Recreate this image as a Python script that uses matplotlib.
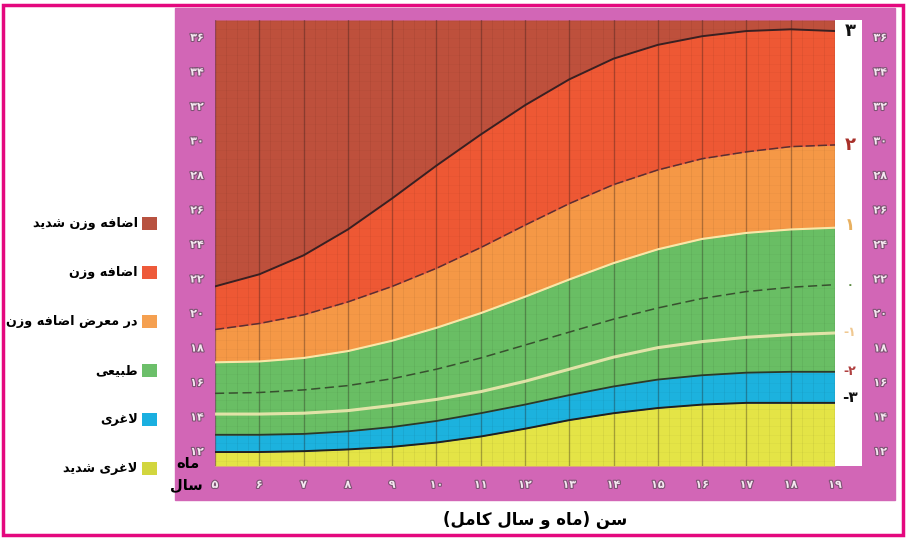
import matplotlib
matplotlib.use("Agg")
import matplotlib.pyplot as plt
import matplotlib.patheffects as pe
from matplotlib.patches import Rectangle, Patch

plt.rcParams["font.family"] = ["DejaVu Sans"]

# age in full years (x axis) and BMI curves, one per z-score line
ages = [5, 6, 7, 8, 9, 10, 11, 12, 13, 14, 15, 16, 17, 18, 19]
plus3 = [21.6, 22.3, 23.4, 24.9, 26.7, 28.6, 30.4, 32.1, 33.6, 34.8, 35.6, 36.1, 36.4, 36.5, 36.4]
plus2 = [19.1, 19.45, 19.95, 20.7, 21.6, 22.65, 23.85, 25.15, 26.4, 27.5, 28.35, 29.0, 29.4, 29.7, 29.8]
plus1 = [17.2, 17.25, 17.45, 17.85, 18.45, 19.2, 20.05, 21.0, 22.0, 22.95, 23.75, 24.35, 24.7, 24.9, 25.0]
median = [15.4, 15.45, 15.6, 15.85, 16.25, 16.8, 17.45, 18.2, 18.95, 19.7, 20.35, 20.9, 21.3, 21.55, 21.7]
minus1 = [14.2, 14.2, 14.25, 14.4, 14.7, 15.05, 15.5, 16.1, 16.8, 17.5, 18.05, 18.4, 18.65, 18.8, 18.9]
minus2 = [13.0, 13.0, 13.05, 13.2, 13.45, 13.8, 14.25, 14.75, 15.3, 15.8, 16.2, 16.45, 16.6, 16.65, 16.65]
minus3 = [12.0, 12.0, 12.05, 12.15, 12.3, 12.55, 12.9, 13.35, 13.85, 14.25, 14.55, 14.75, 14.85, 14.85, 14.85]

bmi_ticks = [36, 34, 32, 30, 28, 26, 24, 22, 20, 18, 16, 14, 12]

legend_labels = ["اضافه وزن شدید", "اضافه وزن", "در معرض اضافه وزن", "طبیعی", "لاغری", "لاغری شدید"]
legend_colors = ["#B85240", "#EE5A3A", "#F5A050", "#6CBF6A", "#1AAFE0", "#D2D63E"]
x_title = "سن (ماه و سال کامل)"

BROWN, RED, ORANGE = "#BE503C", "#EE5834", "#F59846"
GREEN, BLUE, YELLOW = "#69BE64", "#1CB2DE", "#E4E446"
PINK = "#D266B6"

# --- tiny Arabic-script shaper: matplotlib has no shaping / bidi of its own ---
FORMS = {
    "ا": ("\uFE8D", "\uFE8E"), "د": ("\uFEA9", "\uFEAA"), "ر": ("\uFEAD", "\uFEAE"),
    "ز": ("\uFEAF", "\uFEB0"), "و": ("\uFEED", "\uFEEE"),
    "ب": ("\uFE8F", "\uFE90", "\uFE91", "\uFE92"), "س": ("\uFEB1", "\uFEB2", "\uFEB3", "\uFEB4"),
    "ش": ("\uFEB5", "\uFEB6", "\uFEB7", "\uFEB8"), "ض": ("\uFEBD", "\uFEBE", "\uFEBF", "\uFEC0"),
    "ط": ("\uFEC1", "\uFEC2", "\uFEC3", "\uFEC4"), "ع": ("\uFEC9", "\uFECA", "\uFECB", "\uFECC"),
    "غ": ("\uFECD", "\uFECE", "\uFECF", "\uFED0"), "ف": ("\uFED1", "\uFED2", "\uFED3", "\uFED4"),
    "ل": ("\uFEDD", "\uFEDE", "\uFEDF", "\uFEE0"), "م": ("\uFEE1", "\uFEE2", "\uFEE3", "\uFEE4"),
    "ن": ("\uFEE5", "\uFEE6", "\uFEE7", "\uFEE8"), "ه": ("\uFEE9", "\uFEEA", "\uFEEB", "\uFEEC"),
    "ی": ("\uFEEF", "\uFEF0", "\uFEF3", "\uFEF4"), "ک": ("\uFB8E", "\uFB8F", "\uFEDB", "\uFEDC"),
}
MIRROR = str.maketrans("()", ")(")


def shape(text):
    out = []
    i = 0
    while i < len(text):
        c = text[i]
        prev = text[i - 1] if i > 0 else ""
        left = len(FORMS.get(prev, ())) == 4
        if c == "ل" and i + 1 < len(text) and text[i + 1] == "ا":
            out.append("\uFEFC" if left else "\uFEFB")
            i += 2
            continue
        if c not in FORMS:
            out.append(c)
            i += 1
            continue
        f = FORMS[c]
        nxt = text[i + 1] if i + 1 < len(text) else ""
        right = len(f) == 4 and nxt in FORMS
        if left and right:
            out.append(f[3])
        elif left:
            out.append(f[1])
        elif right:
            out.append(f[2])
        else:
            out.append(f[0])
        i += 1
    return "".join(reversed(out)).translate(MIRROR)


def fa(num):
    return str(num).translate(str.maketrans("0123456789", "۰۱۲۳۴۵۶۷۸۹"))


W, H = 907, 539
fig = plt.figure(figsize=(W / 100, H / 100), dpi=100)
fig.patches.append(Rectangle((175 / W, 1 - 500 / H), 720 / W, 492 / H,
                             transform=fig.transFigure, color=PINK, zorder=-5))
fig.patches.append(Rectangle((3 / W, 1 - 535 / H), 900 / W, 530 / H, transform=fig.transFigure,
                             fill=False, ec="#E4087E", lw=2.5, zorder=-4))

ax = fig.add_axes([215 / W, 1 - 466 / H, 620 / W, 446 / H])
ax.set_zorder(2)
ymin, ymax = 11.19, 37.04
ax.set_xlim(5, 19)
ax.set_ylim(ymin, ymax)
ax.set_facecolor("none")
for s in ax.spines.values():
    s.set_visible(False)

ax.fill_between(ages, ymin, minus3, color=YELLOW, lw=0)
ax.fill_between(ages, minus3, minus2, color=BLUE, lw=0)
ax.fill_between(ages, minus2, plus1, color=GREEN, lw=0)
ax.fill_between(ages, plus1, plus2, color=ORANGE, lw=0)
ax.fill_between(ages, plus2, plus3, color=RED, lw=0)
ax.fill_between(ages, plus3, ymax, color=BROWN, lw=0)

# fine paper grid + darker yearly lines
for k in range(5 * 4, 19 * 4):
    ax.axvline(k / 4, color="black", alpha=0.06, lw=0.6)
for a in ages:
    ax.axvline(a, color="#2a1a1a", alpha=0.3, lw=1.0)
y = 11.5
while y < ymax:
    ax.axhline(y, color="black", alpha=0.035, lw=0.5)
    y += 0.5

ax.plot(ages, plus3, color="#3a2020", lw=1.4)
ax.plot(ages, plus2, color="#5a3030", lw=1.1, ls=(0, (6, 2)))
ax.plot(ages, plus1, color="#F8E8A8", lw=1.5)
ax.plot(ages, median, color="#38502f", lw=1.1, ls=(0, (6, 3)))
ax.plot(ages, minus1, color="#EFE8B0", lw=2.2, alpha=0.9)
ax.plot(ages, minus2, color="#2a3a2a", lw=1.3)
ax.plot(ages, minus3, color="#202020", lw=1.4)

# white z-score strip on the right
ax.add_patch(Rectangle((1.0, 0), 0.0435, 1, transform=ax.transAxes,
                       facecolor="white", lw=0, clip_on=False))
ytr = ax.get_yaxis_transform()
zlabels = [(plus3[-1], "۳", "#111111", 13), (plus2[-1], "۲", "#A8302A", 13),
           (plus1[-1] + 0.15, "۱", "#E8B060", 12), (median[-1], "۰", "#5A8A40", 8),
           (minus1[-1], "-۱", "#F0C890", 9), (minus2[-1], "-۲", "#B04040", 9),
           (minus3[-1] + 0.3, "-۳", "#111111", 11)]
for yv, txt, col, fs in zlabels:
    ax.text(1.024, yv, txt, transform=ytr, ha="center", va="center",
            color=col, fontsize=fs, fontweight="bold", clip_on=False)

# embossed tick labels on both sides
emb = [pe.withStroke(linewidth=1.6, foreground="#7E5474")]
for t in bmi_ticks:
    ax.text(-0.029, t, fa(t), transform=ytr, ha="center", va="center", fontsize=8,
            color="#F4E8F0", fontweight="bold", path_effects=emb)
    ax.text(1.073, t, fa(t), transform=ytr, ha="center", va="center", fontsize=8,
            color="#F4E8F0", fontweight="bold", path_effects=emb)

ax.set_xticks(ages, labels=[fa(a) for a in ages])
ax.set_yticks([])
ax.tick_params(axis="x", length=0, pad=10, labelsize=8, labelcolor="#F4E8F0")
for lab in ax.get_xticklabels():
    lab.set_fontweight("bold")
    lab.set_path_effects(emb)

fig.text(188 / W, 1 - 464 / H, shape("ماه"), ha="center", va="center",
         fontsize=10.5, fontweight="bold", zorder=5)
fig.text(186 / W, 1 - 485 / H, shape("سال"), ha="center", va="center",
         fontsize=10.5, fontweight="bold", zorder=5)
fig.text(535 / W, 1 - 520 / H, shape(x_title), ha="center", va="center",
         fontsize=12, fontweight="bold")

handles = [Patch(facecolor=c, edgecolor="none") for c in legend_colors]
fig.legend(handles, [shape(l) for l in legend_labels], loc="center right",
           bbox_to_anchor=(162 / W, 1 - 346 / H), frameon=False, markerfirst=False,
           prop={"weight": "bold", "size": 9.2}, handlelength=1.2,
           handleheight=1.2, handletextpad=0.3, labelspacing=2.75, borderaxespad=0)

fig.savefig("out.png", dpi=100)
